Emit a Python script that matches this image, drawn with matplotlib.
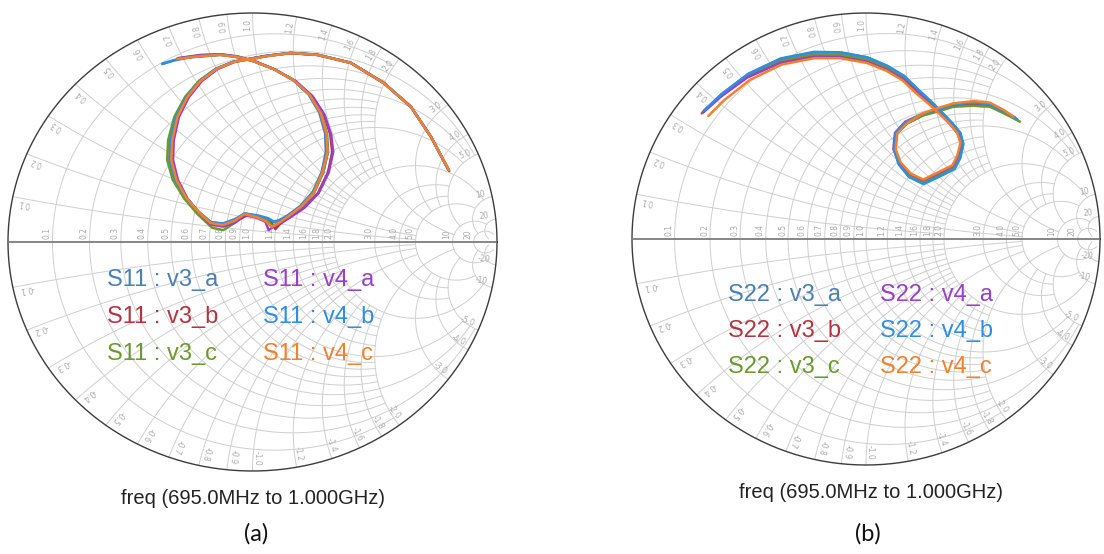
import numpy as np
import matplotlib.pyplot as plt

# reflection coefficient points (re, im)
s11_v3_a = [(-0.369, 0.777), (-0.320, 0.793), (-0.258, 0.806), (-0.131, 0.817), (-0.061, 0.808),
            (0.004, 0.790), (0.084, 0.757), (0.164, 0.709), (0.229, 0.645), (0.273, 0.565),
            (0.297, 0.474), (0.300, 0.393), (0.283, 0.306), (0.246, 0.218), (0.195, 0.157),
            (0.143, 0.116), (0.104, 0.092), (0.082, 0.085), (0.062, 0.100), (0.020, 0.114),
            (-0.033, 0.125), (-0.074, 0.096), (-0.123, 0.079), (-0.172, 0.088), (-0.223, 0.135),
            (-0.274, 0.196), (-0.318, 0.275), (-0.340, 0.358), (-0.337, 0.445), (-0.315, 0.546),
            (-0.272, 0.635), (-0.217, 0.705), (-0.150, 0.757), (-0.080, 0.787), (-0.008, 0.801),
            (0.061, 0.814), (0.156, 0.826), (0.266, 0.818), (0.402, 0.783), (0.537, 0.695),
            (0.648, 0.591), (0.730, 0.460), (0.800, 0.318)]
s11_v3_b = [(-0.307, 0.801), (-0.213, 0.815), (-0.131, 0.819), (-0.061, 0.809), (0.006, 0.790),
            (0.090, 0.754), (0.174, 0.704), (0.243, 0.638), (0.292, 0.557), (0.318, 0.469),
            (0.326, 0.393), (0.309, 0.305), (0.268, 0.214), (0.210, 0.150), (0.152, 0.108),
            (0.112, 0.078), (0.094, 0.057), (0.075, 0.085), (0.040, 0.103), (-0.020, 0.119),
            (-0.070, 0.088), (-0.119, 0.070), (-0.172, 0.078), (-0.220, 0.128), (-0.268, 0.191),
            (-0.308, 0.271), (-0.329, 0.358), (-0.325, 0.445), (-0.304, 0.546), (-0.263, 0.633),
            (-0.210, 0.704), (-0.145, 0.756), (-0.076, 0.787), (-0.006, 0.800), (0.062, 0.813),
            (0.156, 0.825), (0.266, 0.817), (0.402, 0.782), (0.537, 0.694), (0.648, 0.590),
            (0.730, 0.459), (0.803, 0.313)]
s11_v3_c = [(-0.307, 0.800), (-0.213, 0.813), (-0.131, 0.818), (-0.061, 0.808), (0.004, 0.789),
            (0.087, 0.755), (0.168, 0.706), (0.236, 0.641), (0.281, 0.562), (0.305, 0.471),
            (0.309, 0.393), (0.290, 0.306), (0.252, 0.214), (0.199, 0.153), (0.145, 0.109),
            (0.104, 0.080), (0.080, 0.070), (0.062, 0.095), (0.016, 0.110), (-0.033, 0.121),
            (-0.078, 0.080), (-0.119, 0.052), (-0.165, 0.062), (-0.223, 0.120), (-0.278, 0.188),
            (-0.326, 0.271), (-0.349, 0.358), (-0.345, 0.445), (-0.320, 0.546), (-0.276, 0.633),
            (-0.219, 0.703), (-0.151, 0.755), (-0.080, 0.786), (-0.008, 0.799), (0.061, 0.812),
            (0.156, 0.825), (0.266, 0.817), (0.402, 0.782), (0.537, 0.694), (0.648, 0.590),
            (0.730, 0.459), (0.802, 0.315)]
s11_v4_a = [(-0.305, 0.803), (-0.211, 0.817), (-0.129, 0.820), (-0.059, 0.810), (0.008, 0.790),
            (0.092, 0.753), (0.176, 0.703), (0.246, 0.636), (0.295, 0.555), (0.322, 0.468),
            (0.330, 0.393), (0.312, 0.304), (0.271, 0.214), (0.211, 0.148), (0.150, 0.105),
            (0.096, 0.074), (0.066, 0.052), (0.053, 0.088), (0.020, 0.105), (-0.033, 0.118),
            (-0.070, 0.085), (-0.119, 0.068), (-0.172, 0.076), (-0.219, 0.127), (-0.266, 0.190),
            (-0.305, 0.271), (-0.325, 0.358), (-0.322, 0.445), (-0.301, 0.546), (-0.260, 0.633),
            (-0.207, 0.703), (-0.143, 0.755), (-0.074, 0.786), (-0.004, 0.801), (0.063, 0.814),
            (0.156, 0.825), (0.266, 0.817), (0.402, 0.782), (0.537, 0.694), (0.648, 0.590),
            (0.730, 0.459), (0.805, 0.310)]
s11_v4_b = [(-0.369, 0.779), (-0.318, 0.795), (-0.256, 0.808), (-0.131, 0.818), (-0.061, 0.808),
            (0.004, 0.790), (0.085, 0.756), (0.166, 0.708), (0.232, 0.643), (0.278, 0.564),
            (0.303, 0.473), (0.308, 0.393), (0.290, 0.306), (0.251, 0.216), (0.199, 0.155),
            (0.146, 0.113), (0.108, 0.094), (0.086, 0.090), (0.064, 0.104), (0.022, 0.116),
            (-0.030, 0.124), (-0.072, 0.100), (-0.121, 0.081), (-0.170, 0.086), (-0.222, 0.133),
            (-0.272, 0.194), (-0.316, 0.273), (-0.338, 0.358), (-0.335, 0.445), (-0.313, 0.546),
            (-0.270, 0.634), (-0.215, 0.704), (-0.149, 0.756), (-0.079, 0.787), (-0.008, 0.800),
            (0.061, 0.813), (0.156, 0.826), (0.266, 0.818), (0.402, 0.783), (0.537, 0.695),
            (0.648, 0.591), (0.730, 0.460), (0.801, 0.316)]
s11_v4_c = [(-0.307, 0.799), (-0.213, 0.812), (-0.131, 0.817), (-0.061, 0.808), (0.004, 0.790),
            (0.086, 0.755), (0.168, 0.707), (0.234, 0.642), (0.279, 0.563), (0.303, 0.472),
            (0.307, 0.393), (0.287, 0.306), (0.250, 0.214), (0.197, 0.153), (0.143, 0.109),
            (0.102, 0.079), (0.078, 0.066), (0.053, 0.092), (0.016, 0.109), (-0.033, 0.122),
            (-0.074, 0.092), (-0.123, 0.074), (-0.172, 0.083), (-0.221, 0.131), (-0.270, 0.192),
            (-0.311, 0.271), (-0.332, 0.358), (-0.328, 0.445), (-0.307, 0.546), (-0.266, 0.633),
            (-0.213, 0.703), (-0.148, 0.755), (-0.078, 0.786), (-0.008, 0.799), (0.061, 0.812),
            (0.156, 0.825), (0.266, 0.817), (0.402, 0.782), (0.537, 0.694), (0.648, 0.590),
            (0.730, 0.459), (0.803, 0.314)]

s22_v3_a = [(-0.694, 0.566), (-0.618, 0.640), (-0.505, 0.729), (-0.365, 0.797), (-0.223, 0.826),
            (-0.110, 0.825), (0.005, 0.803), (0.091, 0.765), (0.163, 0.720), (0.222, 0.660),
            (0.279, 0.606), (0.330, 0.553), (0.366, 0.514), (0.402, 0.468), (0.415, 0.421),
            (0.401, 0.359), (0.378, 0.312), (0.320, 0.282), (0.245, 0.245), (0.185, 0.276),
            (0.141, 0.331), (0.121, 0.394), (0.129, 0.470), (0.173, 0.516), (0.245, 0.553),
            (0.316, 0.574), (0.373, 0.595), (0.459, 0.602), (0.530, 0.595), (0.601, 0.558),
            (0.648, 0.528)]
s22_v3_b = [(-0.702, 0.556), (-0.624, 0.630), (-0.510, 0.718), (-0.368, 0.786), (-0.225, 0.814),
            (-0.111, 0.813), (0.003, 0.791), (0.089, 0.756), (0.162, 0.714), (0.222, 0.657),
            (0.279, 0.603), (0.327, 0.551), (0.360, 0.512), (0.394, 0.468), (0.408, 0.423),
            (0.394, 0.364), (0.373, 0.320), (0.316, 0.291), (0.245, 0.256), (0.188, 0.284),
            (0.146, 0.336), (0.125, 0.394), (0.132, 0.467), (0.175, 0.511), (0.245, 0.548),
            (0.316, 0.570), (0.373, 0.591), (0.459, 0.598), (0.530, 0.591), (0.601, 0.554),
            (0.645, 0.528)]
s22_v3_c = [(-0.700, 0.558), (-0.622, 0.632), (-0.508, 0.720), (-0.367, 0.788), (-0.224, 0.816),
            (-0.110, 0.815), (0.004, 0.793), (0.090, 0.758), (0.164, 0.716), (0.225, 0.659),
            (0.281, 0.603), (0.329, 0.549), (0.362, 0.510), (0.396, 0.466), (0.410, 0.422),
            (0.396, 0.362), (0.374, 0.318), (0.317, 0.288), (0.245, 0.252), (0.186, 0.281),
            (0.143, 0.334), (0.122, 0.394), (0.130, 0.468), (0.174, 0.512), (0.245, 0.547),
            (0.316, 0.567), (0.373, 0.585), (0.459, 0.590), (0.530, 0.585), (0.605, 0.548),
            (0.658, 0.519)]
s22_v4_a = [(-0.696, 0.560), (-0.620, 0.630), (-0.508, 0.714), (-0.368, 0.779), (-0.226, 0.806),
            (-0.112, 0.805), (0.002, 0.785), (0.087, 0.750), (0.158, 0.708), (0.216, 0.650),
            (0.273, 0.598), (0.322, 0.548), (0.357, 0.511), (0.392, 0.467), (0.406, 0.424),
            (0.392, 0.366), (0.371, 0.323), (0.314, 0.294), (0.245, 0.260), (0.190, 0.287),
            (0.141, 0.340), (0.117, 0.398), (0.124, 0.470), (0.168, 0.519), (0.243, 0.555),
            (0.316, 0.576), (0.373, 0.597), (0.459, 0.604), (0.530, 0.598), (0.596, 0.562),
            (0.638, 0.537)]
s22_v4_b = [(-0.692, 0.568), (-0.616, 0.642), (-0.503, 0.731), (-0.364, 0.799), (-0.222, 0.828),
            (-0.109, 0.826), (0.006, 0.804), (0.092, 0.766), (0.164, 0.721), (0.223, 0.661),
            (0.280, 0.607), (0.331, 0.554), (0.367, 0.515), (0.404, 0.469), (0.416, 0.420),
            (0.403, 0.358), (0.379, 0.310), (0.320, 0.279), (0.246, 0.243), (0.184, 0.274),
            (0.140, 0.330), (0.120, 0.394), (0.128, 0.471), (0.172, 0.517), (0.244, 0.555),
            (0.316, 0.575), (0.373, 0.596), (0.459, 0.603), (0.530, 0.596), (0.600, 0.559),
            (0.645, 0.530)]
s22_v4_c = [(-0.674, 0.544), (-0.604, 0.616), (-0.496, 0.704), (-0.360, 0.772), (-0.222, 0.800),
            (-0.110, 0.800), (0.004, 0.779), (0.088, 0.744), (0.156, 0.702), (0.213, 0.646),
            (0.270, 0.596), (0.320, 0.548), (0.356, 0.512), (0.390, 0.469), (0.404, 0.425),
            (0.390, 0.368), (0.369, 0.326), (0.312, 0.297), (0.245, 0.263), (0.191, 0.289),
            (0.148, 0.339), (0.127, 0.396), (0.133, 0.466), (0.175, 0.512), (0.245, 0.557),
            (0.316, 0.582), (0.373, 0.600), (0.459, 0.610), (0.530, 0.603), (0.590, 0.570),
            (0.630, 0.541)]

trace_names = ['v3_a', 'v3_b', 'v3_c', 'v4_a', 'v4_b', 'v4_c']
trace_colors = ['#4a80b6', '#b3343f', '#6a9a2e', '#9a3fc6', '#2e8fe2', '#f2802c']
s11_traces = [s11_v3_a, s11_v3_b, s11_v3_c, s11_v4_a, s11_v4_b, s11_v4_c]
s22_traces = [s22_v3_a, s22_v3_b, s22_v3_c, s22_v4_a, s22_v4_b, s22_v4_c]

# grid values with the reactance / resistance where each line stops
r_circles = [(0.1, 2), (0.2, 5), (0.3, 2), (0.4, 2), (0.5, 5), (0.6, 2), (0.7, 2), (0.8, 2),
             (0.9, 2), (1.0, 5), (1.2, 2), (1.4, 2), (1.6, 2), (1.8, 2), (2.0, 10),
             (3.0, 5), (4.0, 5), (5.0, 10), (10.0, 20), (20.0, 50)]
x_arcs = r_circles
label_vals = [0.1, 0.2, 0.3, 0.4, 0.5, 0.6, 0.7, 0.8, 0.9, 1.0, 1.2, 1.4, 1.6, 1.8, 2.0,
              3.0, 4.0, 5.0, 10, 20]

W, H = 1104, 554
grid_col = '#cfcfcf'
lab_col = '#ababab'


def fmt(v):
    return '%d' % v if v >= 10 else '%.1f' % v


def smith(ax, rx, ry):
    ax.set_xlim(-1, 1)
    ax.set_ylim(-1, 1)
    ax.axis('off')
    for r, xm in r_circles:
        xs = np.linspace(-xm, xm, 2000)
        z = r + 1j * xs
        g = (z - 1) / (z + 1)
        ax.plot(g.real, g.imag, color=grid_col, lw=0.7, zorder=1)
    for x, rm in x_arcs:
        rs = np.linspace(0, rm, 2000)
        for s in (1, -1):
            z = rs + 1j * s * x
            g = (z - 1) / (z + 1)
            ax.plot(g.real, g.imag, color=grid_col, lw=0.7, zorder=1)
    t = np.linspace(0, 2 * np.pi, 500)
    ax.plot(np.cos(t), np.sin(t), color='#3c3c3c', lw=1.0, zorder=3, clip_on=False)
    ax.plot([-1, 1], [0, 0], color='#7c7c7c', lw=1.3, zorder=3)
    for v in label_vals:
        gx = (v - 1) / (v + 1)
        ax.text(gx - 0.004, 0.012, fmt(v), rotation=90, rotation_mode='anchor',
                ha='left', va='bottom', fontsize=5.5, color=lab_col, zorder=2)
        for s in (1, -1):
            th = np.pi - 2 * np.arctan(s * v)
            rot = np.degrees(np.arctan2(ry * np.sin(th), rx * np.cos(th)))
            lab = fmt(v) if s > 0 else '-' + fmt(v)
            ax.text(0.975 * np.cos(th), 0.975 * np.sin(th), lab, rotation=rot,
                    rotation_mode='anchor', ha='right', va='bottom',
                    fontsize=5.5, color=lab_col, zorder=2)


def draw_traces(ax, traces):
    for pts, c in zip(traces, trace_colors):
        p = np.array(pts)
        ax.plot(p[:, 0], p[:, 1], color=c, lw=1.8, solid_joinstyle='round',
                solid_capstyle='round', zorder=4)


fig = plt.figure(figsize=(W / 100, H / 100), dpi=100)
fig.patch.set_facecolor('white')

axL = fig.add_axes([8 / W, (H - 471) / H, 489 / W, 458 / H])
axR = fig.add_axes([632 / W, (H - 465) / H, 468 / W, 452 / H])
smith(axL, 244, 229)
smith(axR, 234, 226)
draw_traces(axL, s11_traces)
draw_traces(axR, s22_traces)


def ftext(x, y, s, **kw):
    fig.text(x / W, 1 - y / H, s, **kw)


# legends
for i, (n, c) in enumerate(zip(trace_names, trace_colors)):
    col, row = divmod(i, 3)
    ftext([107, 263][col], [280, 317, 354][row], 'S11 : ' + n, color=c, fontsize=17,
          ha='left', va='center', family='Liberation Sans', zorder=5)
    ftext([728, 880][col], [295, 331, 367][row], 'S22 : ' + n, color=c, fontsize=17,
          ha='left', va='center', family='Liberation Sans', zorder=5)

ftext(253, 499, 'freq (695.0MHz to 1.000GHz)', fontsize=14.5, ha='center', va='center',
      family='Liberation Sans', color='#222222')
ftext(871, 493, 'freq (695.0MHz to 1.000GHz)', fontsize=14.5, ha='center', va='center',
      family='Liberation Sans', color='#222222')
ftext(256, 534, '(a)', fontsize=17, ha='center', va='center', family='Lato', color='#111111')
ftext(868, 534, '(b)', fontsize=17, ha='center', va='center', family='Lato', color='#111111')

fig.savefig('out.png', dpi=100, facecolor='white')
